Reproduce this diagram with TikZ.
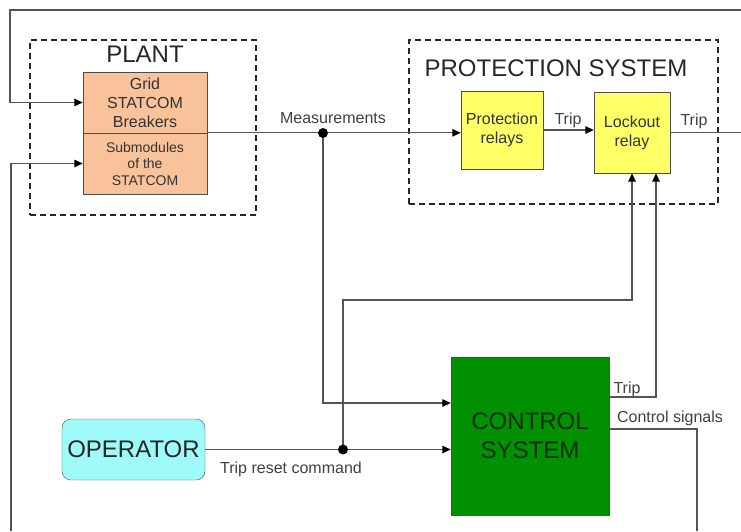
\documentclass[tikz,border=0pt]{standalone}
\usepackage{fontspec}
\setmainfont{Liberation Sans}
\usetikzlibrary{positioning,arrows.meta,calc}
\definecolor{plantorange}{HTML}{F8C39A}
\definecolor{relayyellow}{HTML}{FFFF66}
\definecolor{ctrlgreen}{HTML}{009000}
\definecolor{opcyan}{HTML}{9FFAFA}
\definecolor{wiregray}{HTML}{555555}
\definecolor{ctrltext}{HTML}{0A300A}
\tikzset{
    every node/.style={font=\fontsize{16}{19}\selectfont,text=black!80},
    groupbox/.style={draw=black!85,line width=1.8pt,dash pattern=on 6pt off 4pt,inner sep=0pt},
    grouptitle/.style={font=\fontsize{24}{29}\selectfont,text=black!85,inner sep=0pt},
    plantblock/.style={draw=black!70,fill=plantorange,minimum width=124pt,minimum height=61pt,align=center,inner sep=0pt},
    relay/.style={draw=black!70,fill=relayyellow,align=center,inner sep=0pt},
    ctrlblock/.style={draw=black!70,fill=ctrlgreen,minimum width=158pt,minimum height=158pt,align=center,inner sep=0pt,
        font=\fontsize{24}{29}\selectfont,text=ctrltext},
    opblock/.style={draw=black!70,fill=opcyan,rounded corners=9pt,minimum width=143pt,minimum height=61pt,
        font=\fontsize{24}{29}\selectfont,text=black!85,inner sep=0pt},
    wire/.style={draw=wiregray,line width=1.3pt},
    sig/.style={wire,-{Triangle[length=8.5pt,width=7.5pt,color=black]}},
    junction/.style={circle,fill=black,inner sep=0pt,minimum size=10pt},
    lbl/.style={anchor=base,inner sep=0pt,text=black!75}
}
\begin{document}
\begin{tikzpicture}[x=1pt,y=-1pt]
\useasboundingbox (0,0) rectangle (741,531);

% groups
\node[groupbox,minimum width=226pt,minimum height=175pt] (plant) at (143,127.5) {};
\node[grouptitle] (planttitle) at (145,54) {PLANT};
\node[groupbox,minimum width=309pt,minimum height=164pt] (protsys) at (563.5,122) {};
\node[grouptitle] (prottitle) at (556,68) {PROTECTION SYSTEM};

% blocks
\node[plantblock] (grid) at (145,102.5) {Grid\\STATCOM\\Breakers};
\node[plantblock,font=\fontsize{14}{16.5}\selectfont] (sub) at (145,163.5) {Submodules\\of the\\STATCOM};
\node[relay,minimum width=82pt,minimum height=78pt] (prot) at (502,130) {Protection\\relays};
\node[relay,minimum width=76pt,minimum height=81pt] (lock) at (632,132.5) {Lockout\\relay};
\node[ctrlblock] (ctrl) at (530,436) {CONTROL\\SYSTEM};
\node[opblock] (oper) at (133.5,449.5) {OPERATOR};

% branch points and free ends
\coordinate (mjoin) at (323,133);
\coordinate (rjoin) at (343,449.5);
\coordinate (fbstart) at (741,10);
\coordinate (fbcorner) at (10,10);
\coordinate (botleft) at (11,531);
\coordinate (rstbend) at (343,300);
\coordinate (tripend) at (741,132.5);
\coordinate (csend) at (697,531);

% connectors
\draw[sig] (fbstart) -- (fbcorner) |- (grid.west);
\draw[sig] (botleft) |- (sub.west);
\draw[sig] (sub.north east) -- (prot.west |- sub.north east);
\draw[sig] (mjoin) |- ([yshift=33pt]ctrl.west);
\draw[sig] (prot.east) -- (lock.west |- prot.east);
\draw[wire] (lock.east) -- (tripend);
\draw[sig] (oper.east) -- (ctrl.west |- oper.east);
\draw[sig] (rjoin) -- (rstbend) -| (lock.south);
\draw[sig] ([yshift=39pt]ctrl.east) -| ([xshift=24pt]lock.south);
\draw[wire] ([yshift=7pt]ctrl.east) -| (csend);
\node[junction] (mdot) at (mjoin) {};
\node[junction] (rdot) at (rjoin) {};

% labels
\node[lbl] (measlbl) at (333,123) {Measurements};
\node[lbl] (trip1) at (568,124) {Trip};
\node[lbl] (trip2) at (694,125) {Trip};
\node[lbl] (trip3) at (627,393) {Trip};
\node[lbl] (cslbl) at (670,422) {Control signals};
\node[lbl] (rstlbl) at (291,473) {Trip reset command};
\end{tikzpicture}
\end{document}
